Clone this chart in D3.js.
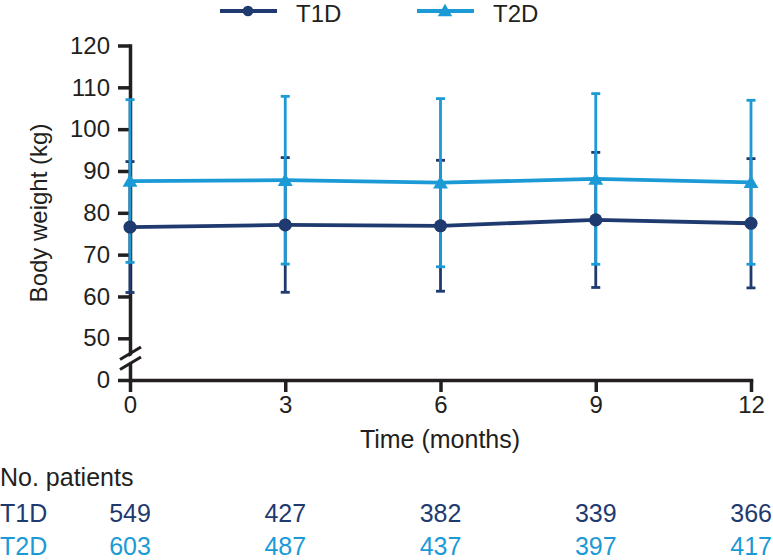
<!DOCTYPE html>
<html>
<head>
<meta charset="utf-8">
<script src="https://cdn.jsdelivr.net/npm/d3@7"></script>
<style>
  html, body { margin: 0; padding: 0; background: #fff; }
  svg { display: block; font-family: "Liberation Sans", Arial, sans-serif; }
</style>
</head>
<body>
<svg id="chart" width="773" height="560"></svg>
<script>
// ---- Data ----
const months = [0, 3, 6, 9, 12];
const t1dMean = [76.6, 77.1, 76.9, 78.3, 77.5];
const t1dSD   = [15.65, 16.1, 15.65, 16.15, 15.45];
const t2dMean = [87.6, 87.8, 87.2, 88.1, 87.3];
const t2dSD   = [19.45, 20.05, 20.1, 20.4, 19.6];
const yTicks = [0, 50, 60, 70, 80, 90, 100, 110, 120];
const seriesNames = ["T1D", "T2D"];
const t1dPatients = [549, 427, 382, 339, 366];
const t2dPatients = [603, 487, 437, 397, 417];

// ---- Style ----
const C1 = "#1f3a6f", C2 = "#1b9ad6", INK = "#231f20";
const svg = d3.select("#chart");

const x = d3.scaleLinear().domain([0, 12]).range([130, 751]);
const y = d3.scaleLinear().domain([0, 50, 120]).range([380, 338.3, 45.5]);

// ---- Axes ----
const yAxis = svg.append("g").attr("transform", "translate(130,0)")
  .call(d3.axisLeft(y).tickValues(yTicks).tickSize(12).tickSizeOuter(0).tickPadding(8));
const xAxis = svg.append("g").attr("transform", "translate(0,380)")
  .call(d3.axisBottom(x).tickValues(months).tickSize(12).tickSizeOuter(0).tickPadding(4));
[yAxis, xAxis].forEach(g => {
  g.selectAll("path.domain").attr("stroke", INK).attr("stroke-width", 3.5).attr("stroke-linecap", "square");
  g.selectAll(".tick line").attr("stroke", INK).attr("stroke-width", 3.5);
  g.selectAll(".tick text").attr("fill", INK).style("font-size", "24px")
    .style("font-family", '"Liberation Sans", Arial, sans-serif');
});

// axis break
const brk = svg.append("g");
brk.append("polygon")
  .attr("points", [[120.5, 362], [140.5, 350], [140.5, 356], [120.5, 368]].map(p => p.join(",")).join(" "))
  .attr("fill", "#fff");
brk.append("line").attr("x1", 120).attr("y1", 359.5).attr("x2", 141).attr("y2", 347)
  .attr("stroke", INK).attr("stroke-width", 3.2);
brk.append("line").attr("x1", 120).attr("y1", 369.5).attr("x2", 141).attr("y2", 357)
  .attr("stroke", INK).attr("stroke-width", 3.2);

// axis titles
svg.append("text").attr("transform", "translate(47,213) rotate(-90)")
  .attr("text-anchor", "middle").attr("fill", INK).style("font-size", "24px")
  .text("Body weight (kg)");
svg.append("text").attr("x", 440).attr("y", 448)
  .attr("text-anchor", "middle").attr("fill", INK).style("font-size", "25px")
  .text("Time (months)");

// ---- Series ----
const series = [
  { name: seriesNames[0], mean: t1dMean, sd: t1dSD, color: C1, marker: d3.symbolCircle },
  { name: seriesNames[1], mean: t2dMean, sd: t2dSD, color: C2, marker: d3.symbolTriangle }
];

// error bars
series.forEach(s => {
  const g = svg.append("g");
  months.forEach((m, i) => {
    const hi = y(s.mean[i] + s.sd[i]), lo = y(s.mean[i] - s.sd[i]), cx = x(m);
    g.append("line").attr("x1", cx).attr("x2", cx).attr("y1", hi).attr("y2", lo)
      .attr("stroke", s.color).attr("stroke-width", 2.8);
    [hi, lo].forEach(yy => g.append("line")
      .attr("x1", cx - 4.5).attr("x2", cx + 4.5).attr("y1", yy).attr("y2", yy)
      .attr("stroke", s.color).attr("stroke-width", 2.8));
  });
});

// lines
const lineGen = d3.line().x((d, i) => x(months[i])).y(d => y(d));
series.forEach(s => {
  svg.append("path").datum(s.mean).attr("d", lineGen)
    .attr("fill", "none").attr("stroke", s.color).attr("stroke-width", 3.8);
});

// markers
series.forEach(s => {
  const size = s.marker === d3.symbolCircle ? 135 : 95;
  svg.append("g").selectAll("path").data(s.mean).join("path")
    .attr("d", d3.symbol().type(s.marker).size(size))
    .attr("transform", (d, i) => `translate(${x(months[i])},${y(d) + (s.marker === d3.symbolTriangle ? 1.5 : 0)})`)
    .attr("fill", s.color);
});

// ---- Legend ----
const legend = [
  { name: seriesNames[0], color: C1, marker: d3.symbolCircle, x0: 220, size: 90 },
  { name: seriesNames[1], color: C2, marker: d3.symbolTriangle, x0: 417, size: 90 }
];
legend.forEach(l => {
  const g = svg.append("g");
  g.append("line").attr("x1", l.x0).attr("x2", l.x0 + 57).attr("y1", 11).attr("y2", 11)
    .attr("stroke", l.color).attr("stroke-width", 4);
  g.append("path").attr("d", d3.symbol().type(l.marker).size(l.size))
    .attr("transform", `translate(${l.x0 + 28},${l.marker === d3.symbolTriangle ? 12 : 11})`)
    .attr("fill", l.color);
  g.append("text").attr("x", l.x0 + 76).attr("y", 22).attr("fill", INK)
    .style("font-size", "24px").text(l.name);
});

// ---- Patient table ----
svg.append("text").attr("x", 0).attr("y", 486).attr("fill", INK)
  .style("font-size", "25px").text("No. patients");
const rows = [
  { name: seriesNames[0], vals: t1dPatients, color: C1, yy: 522 },
  { name: seriesNames[1], vals: t2dPatients, color: C2, yy: 555 }
];
rows.forEach(r => {
  svg.append("text").attr("x", 0).attr("y", r.yy).attr("fill", r.color)
    .style("font-size", "25px").text(r.name);
  svg.append("g").selectAll("text").data(r.vals).join("text")
    .attr("x", (d, i) => x(months[i])).attr("y", r.yy)
    .attr("text-anchor", (d, i) => i === months.length - 1 ? "end" : "middle")
    .attr("dx", (d, i) => i === months.length - 1 ? 21 : 0)
    .attr("fill", r.color).style("font-size", "25px").text(d => d);
});
</script>
</body>
</html>
